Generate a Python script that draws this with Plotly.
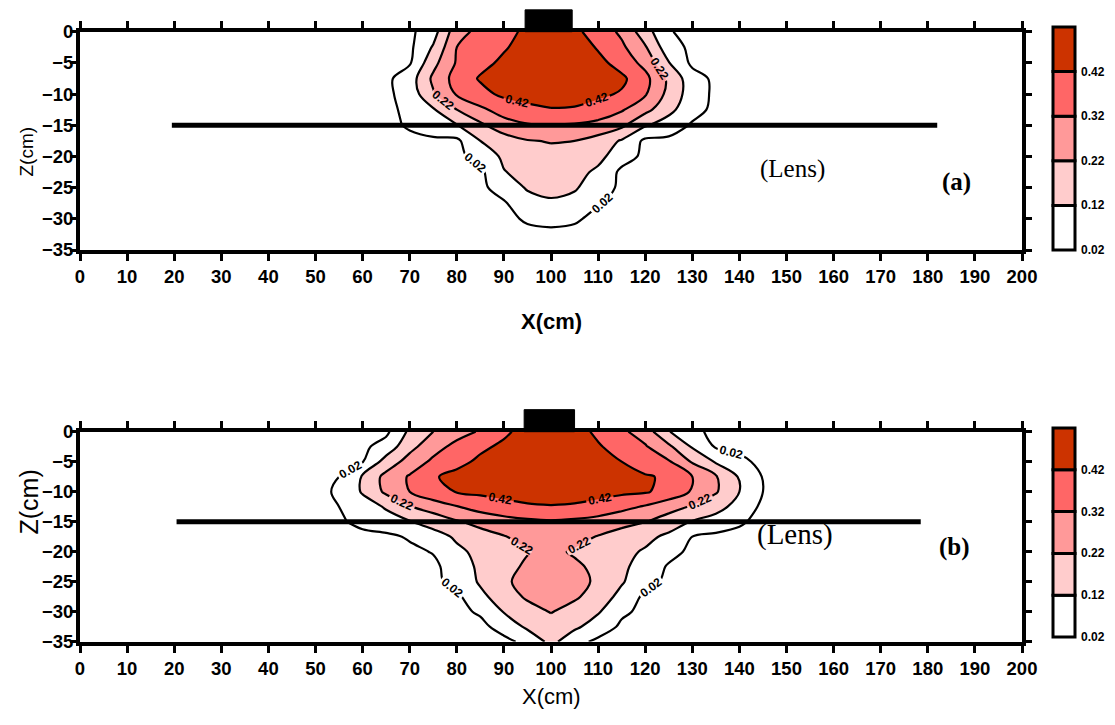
import plotly.graph_objects as go

# ---------------- data ----------------
x_cm = [45, 50, 55, 60, 65, 70, 75, 80, 85, 90, 95, 100, 105, 110, 115, 120,
        125, 130, 135, 140, 145, 150, 155]
depth_cm = [0, -2.5, -5, -7.5, -10, -12.5, -15, -17.5, -20, -22.5, -25, -27.5,
            -30, -32.5, -35]

# panel (a): rows follow depth_cm, columns follow x_cm
conc_a = [
    [0, 0, 0, 0, 0, 0, 0.08, 0.28, 0.35, 0.39, 0.44, 0.50, 0.44, 0.38, 0.30, 0.165, 0.025, 0, 0, 0, 0, 0, 0],
    [0, 0, 0, 0, 0, 0, 0.13, 0.32, 0.37, 0.41, 0.46, 0.52, 0.48, 0.41, 0.34, 0.23, 0.06, 0, 0, 0, 0, 0, 0],
    [0, 0, 0, 0, 0, 0.01, 0.19, 0.33, 0.39, 0.44, 0.48, 0.52, 0.50, 0.45, 0.38, 0.29, 0.125, 0, 0, 0, 0, 0, 0],
    [0, 0, 0, 0, 0, 0.07, 0.24, 0.36, 0.43, 0.47, 0.50, 0.52, 0.51, 0.48, 0.44, 0.35, 0.20, 0.06, 0, 0, 0, 0, 0],
    [0, 0, 0, 0, 0, 0.06, 0.21, 0.33, 0.39, 0.44, 0.45, 0.46, 0.46, 0.44, 0.41, 0.33, 0.19, 0.07, 0, 0, 0, 0, 0],
    [0, 0, 0, 0, 0, 0.04, 0.11, 0.22, 0.30, 0.36, 0.40, 0.415, 0.41, 0.38, 0.33, 0.25, 0.15, 0.05, 0, 0, 0, 0, 0],
    [0, 0, 0, 0, 0, 0.03, 0.08, 0.115, 0.20, 0.28, 0.31, 0.315, 0.31, 0.29, 0.24, 0.13, 0.07, 0.01, 0, 0, 0, 0, 0],
    [0, 0, 0, 0, 0, 0, 0, 0, 0.12, 0.17, 0.215, 0.225, 0.22, 0.18, 0.11, 0, 0, 0, 0, 0, 0, 0, 0],
    [0, 0, 0, 0, 0, 0, 0, 0, 0.05, 0.14, 0.18, 0.195, 0.18, 0.15, 0.06, 0, 0, 0, 0, 0, 0, 0, 0],
    [0, 0, 0, 0, 0, 0, 0, 0, 0, 0.115, 0.155, 0.168, 0.155, 0.10, 0, 0, 0, 0, 0, 0, 0, 0, 0],
    [0, 0, 0, 0, 0, 0, 0, 0, 0, 0.06, 0.13, 0.14, 0.13, 0.07, 0, 0, 0, 0, 0, 0, 0, 0, 0],
    [0, 0, 0, 0, 0, 0, 0, 0, 0, 0.01, 0.08, 0.11, 0.09, 0.025, 0, 0, 0, 0, 0, 0, 0, 0, 0],
    [0, 0, 0, 0, 0, 0, 0, 0, 0, 0, 0.03, 0.045, 0.03, 0, 0, 0, 0, 0, 0, 0, 0, 0, 0],
    [0, 0, 0, 0, 0, 0, 0, 0, 0, 0, 0, 0, 0, 0, 0, 0, 0, 0, 0, 0, 0, 0, 0],
    [0, 0, 0, 0, 0, 0, 0, 0, 0, 0, 0, 0, 0, 0, 0, 0, 0, 0, 0, 0, 0, 0, 0],
]

# panel (b)
conc_b = [
    [0, 0, 0, 0, 0, 0.14, 0.22, 0.28, 0.33, 0.40, 0.46, 0.52, 0.46, 0.40, 0.34, 0.27, 0.125, 0.04, 0, 0, 0, 0, 0],
    [0, 0, 0, 0, 0.06, 0.19, 0.28, 0.35, 0.40, 0.44, 0.48, 0.52, 0.48, 0.43, 0.38, 0.33, 0.24, 0.11, 0.01, 0, 0, 0, 0],
    [0, 0, 0, 0.015, 0.16, 0.26, 0.34, 0.39, 0.44, 0.47, 0.50, 0.52, 0.50, 0.47, 0.42, 0.37, 0.33, 0.21, 0.11, 0.04, 0, 0, 0],
    [0, 0, 0.02, 0.13, 0.25, 0.33, 0.41, 0.45, 0.48, 0.50, 0.51, 0.52, 0.51, 0.49, 0.46, 0.43, 0.405, 0.32, 0.23, 0.11, 0.015, 0, 0],
    [0, 0, 0.03, 0.13, 0.24, 0.32, 0.39, 0.425, 0.44, 0.45, 0.455, 0.46, 0.455, 0.45, 0.44, 0.43, 0.385, 0.31, 0.23, 0.12, 0.02, 0, 0],
    [0, 0, 0.02, 0.074, 0.13, 0.215, 0.265, 0.315, 0.36, 0.39, 0.41, 0.415, 0.41, 0.39, 0.35, 0.31, 0.26, 0.21, 0.155, 0.085, 0, 0, 0],
    [0, 0, 0.01, 0.04, 0.08, 0.115, 0.16, 0.21, 0.25, 0.28, 0.30, 0.31, 0.30, 0.28, 0.25, 0.225, 0.17, 0.115, 0.08, 0.03, 0, 0, 0],
    [0, 0, 0, 0, 0, 0.03, 0.08, 0.135, 0.18, 0.215, 0.25, 0.27, 0.25, 0.215, 0.18, 0.145, 0.10, 0.02, 0, 0, 0, 0, 0],
    [0, 0, 0, 0, 0, 0, 0.025, 0.10, 0.145, 0.18, 0.215, 0.24, 0.21, 0.18, 0.145, 0.11, 0.05, 0, 0, 0, 0, 0, 0],
    [0, 0, 0, 0, 0, 0, 0, 0.066, 0.14, 0.19, 0.235, 0.25, 0.235, 0.20, 0.14, 0.078, 0.01, 0, 0, 0, 0, 0, 0],
    [0, 0, 0, 0, 0, 0, 0, 0.047, 0.133, 0.21, 0.24, 0.26, 0.24, 0.21, 0.13, 0.051, 0, 0, 0, 0, 0, 0, 0],
    [0, 0, 0, 0, 0, 0, 0, 0, 0.095, 0.17, 0.235, 0.25, 0.235, 0.174, 0.09, 0, 0, 0, 0, 0, 0, 0, 0],
    [0, 0, 0, 0, 0, 0, 0, 0, 0.03, 0.125, 0.18, 0.225, 0.18, 0.13, 0.035, 0, 0, 0, 0, 0, 0, 0, 0],
    [0, 0, 0, 0, 0, 0, 0, 0, 0, 0.05, 0.14, 0.18, 0.14, 0.07, 0.005, 0, 0, 0, 0, 0, 0, 0, 0],
    [0, 0, 0, 0, 0, 0, 0, 0, 0, 0, 0.04, 0.15, 0.05, 0, 0, 0, 0, 0, 0, 0, 0, 0, 0],
]

levels = [0.02, 0.12, 0.22, 0.32, 0.42]
band_colors = ["#FFFFFF", "#FFFFFF", "#FFCCCC", "#FF9999", "#FF6666", "#CC3300"]
x_ticks = list(range(0, 201, 10))
z_ticks = list(range(0, -36, -5))
lens_depth = -15
lens_a = [19.5, 182.0]
lens_b = [20.5, 178.5]
source_a = [94.5, 104.5]
source_b = [94.3, 105.0]

# ---------------- styling ----------------
W, H = 1115, 725
OFF = 8  # page body margin in the browser
SANS = "Liberation Sans, Arial, sans-serif"
SERIF = "Liberation Serif, Times New Roman, serif"


def px_x(p):
    return (p - OFF) / W


def px_y(p):
    return 1 - (p - OFF) / H


# step colorscale so each band gets a flat colour
cscale = []
nb = len(band_colors)
for i, c in enumerate(band_colors):
    lo = max(0.0, (i - 0.5) / (nb - 1))
    hi = min(1.0, (i + 0.5) / (nb - 1))
    cscale.append([lo, c])
    cscale.append([hi, c])

step = levels[1] - levels[0]
XR = [0, 200]
ZR = [-35, 0]

x_dom = [px_x(80), px_x(1022)]
panel_ydom = {"a": [px_y(250), px_y(31.7)], "b": [px_y(641.7), px_y(431.7)]}

fig = go.Figure()
layout_axes = {}

# column / row splits used for the labelled contour tiles
split_x = 100
col_groups = [[i for i, v in enumerate(x_cm) if v <= split_x],
              [i for i, v in enumerate(x_cm) if v >= split_x]]
row_groups = [[i for i, v in enumerate(depth_cm) if v >= lens_depth],
              [i for i, v in enumerate(depth_cm) if v <= lens_depth]]

LABEL_FONT = dict(family=SANS, size=12, color="black", weight="bold")
LINE = dict(color="black", width=2.2)


def sub_domain(dom, full, lo, hi):
    span = full[1] - full[0]
    return [dom[0] + (lo - full[0]) / span * (dom[1] - dom[0]),
            dom[0] + (hi - full[0]) / span * (dom[1] - dom[0])]


def add_panel(conc, key, main_x, main_y, tile_x_nums, tile_y_nums):
    ydom = panel_ydom[key]
    fig.add_trace(go.Contour(
        x=x_cm, y=depth_cm, z=conc, xaxis=main_x, yaxis=main_y,
        contours=dict(start=levels[0], end=levels[-1], size=step, coloring="fill"),
        colorscale=cscale, line=dict(width=0), showscale=False, hoverinfo="skip",
    ))
    fig.add_trace(go.Contour(
        x=x_cm, y=depth_cm, z=conc, xaxis=main_x, yaxis=main_y,
        contours=dict(start=levels[1], end=levels[3], size=2 * step, coloring="none"),
        line=LINE, showscale=False, hoverinfo="skip",
    ))
    # labelled levels drawn tile by tile so that each part gets its own labels
    for cg, xn in zip(col_groups, tile_x_nums):
        xs = [x_cm[i] for i in cg]
        layout_axes[f"xaxis{xn}"] = dict(
            domain=sub_domain(x_dom, XR, xs[0], xs[-1]), range=[xs[0], xs[-1]],
            visible=False, anchor=f"y{tile_y_nums[0]}", autorange=False)
        for rg, yn in zip(row_groups, tile_y_nums):
            zs = [depth_cm[j] for j in rg]
            layout_axes[f"yaxis{yn}"] = dict(
                domain=sub_domain(ydom, ZR, min(zs), max(zs)), range=[min(zs), max(zs)],
                visible=False, anchor=f"x{tile_x_nums[0]}", autorange=False)
            sub = [[conc[j][i] for i in cg] for j in rg]
            fig.add_trace(go.Contour(
                x=xs, y=zs, z=sub, xaxis=f"x{xn}", yaxis=f"y{yn}",
                contours=dict(start=levels[0], end=levels[4], size=2 * step, coloring="none",
                              showlabels=True, labelformat=".2f", labelfont=LABEL_FONT),
                line=LINE, showscale=False, hoverinfo="skip",
            ))


add_panel(conc_a, "a", "x", "y", [3, 4], [3, 4])
add_panel(conc_b, "b", "x2", "y2", [5, 6], [5, 6])

axis_common = dict(
    showline=True, linewidth=4, linecolor="black", mirror="ticks",
    ticks="outside", tickwidth=2.5, tickcolor="black",
    showgrid=False, zeroline=False, automargin=False,
    tickfont=dict(family=SANS, size=18.5, color="black", weight="bold"),
)
x_axis_style = dict(ticklen=7, **axis_common)
y_axis_style = dict(ticklen=6, ticklabelstandoff=-7, **axis_common)

fig.update_layout(
    width=W, height=H, margin=dict(l=0, r=0, t=0, b=0, pad=0, autoexpand=False),
    paper_bgcolor="white", plot_bgcolor="rgba(0,0,0,0)", showlegend=False,
    xaxis=dict(domain=x_dom, anchor="y", range=XR, tickvals=x_ticks, **x_axis_style),
    yaxis=dict(domain=panel_ydom["a"], anchor="x", range=ZR, tickvals=z_ticks, **y_axis_style),
    xaxis2=dict(domain=x_dom, anchor="y2", range=XR, tickvals=x_ticks, **x_axis_style),
    yaxis2=dict(domain=panel_ydom["b"], anchor="x2", range=ZR, tickvals=z_ticks, **y_axis_style),
    **layout_axes,
)

shapes = []
# lens lines
for lens, xr, yr in [(lens_a, "x", "y"), (lens_b, "x2", "y2")]:
    shapes.append(dict(type="line", xref=xr, yref=yr, x0=lens[0], x1=lens[1],
                       y0=lens_depth, y1=lens_depth, line=dict(color="black", width=5)))
# source blocks above the surface
for src, xr, yr, top in [(source_a, "x", "y domain", 1.10), (source_b, "x2", "y2 domain", 1.105)]:
    shapes.append(dict(type="rect", xref=xr, yref=yr, x0=src[0], x1=src[1], y0=1.0, y1=top,
                       fillcolor="black", line=dict(color="black", width=1)))

annotations = []
# custom colour keys
for top_px, bot_px in [(27, 250), (428, 637)]:
    bh = (bot_px - top_px) / len(levels)
    for i in range(len(levels)):
        b0 = bot_px - i * bh
        b1 = b0 - bh
        shapes.append(dict(type="rect", xref="paper", yref="paper",
                           x0=px_x(1053), x1=px_x(1075), y0=px_y(b0), y1=px_y(b1),
                           fillcolor=band_colors[i + 1], line=dict(color="black", width=3)))
        annotations.append(dict(xref="paper", yref="paper", x=px_x(1079), y=px_y(b0),
                                text=f"{levels[i]:.2f}", showarrow=False, xanchor="left",
                                yanchor="middle",
                                font=dict(family=SANS, size=12, color="black", weight="bold")))

# titles and labels
annotations += [
    dict(xref="paper", yref="paper", x=px_x(551), y=px_y(322), text="X(cm)", showarrow=False,
         font=dict(family=SANS, size=22, color="black", weight="bold")),
    dict(xref="paper", yref="paper", x=px_x(551), y=px_y(711), text="X(cm)", showarrow=False,
         font=dict(family=SANS, size=22, color="black")),
    dict(xref="paper", yref="paper", x=px_x(14), y=px_y(125), text="Z(cm)", showarrow=False,
         textangle=-90, font=dict(family=SANS, size=19, color="black")),
    dict(xref="paper", yref="paper", x=px_x(12), y=px_y(537), text="Z(cm)", showarrow=False,
         textangle=-90, font=dict(family=SANS, size=25, color="black")),
    dict(xref="paper", yref="paper", x=px_x(827), y=px_y(153), text="(Lens)", showarrow=False,
         font=dict(family=SERIF, size=25, color="black")),
    dict(xref="paper", yref="paper", x=px_x(835), y=px_y(553), text="(Lens)", showarrow=False,
         font=dict(family=SERIF, size=29, color="black")),
    dict(xref="paper", yref="paper", x=px_x(973), y=px_y(166), text="(a)", showarrow=False,
         font=dict(family=SERIF, size=25, color="black", weight="bold")),
    dict(xref="paper", yref="paper", x=px_x(972), y=px_y(563), text="(b)", showarrow=False,
         font=dict(family=SERIF, size=25, color="black", weight="bold")),
]

fig.update_layout(shapes=shapes, annotations=annotations)
fig.write_html("out.html")
